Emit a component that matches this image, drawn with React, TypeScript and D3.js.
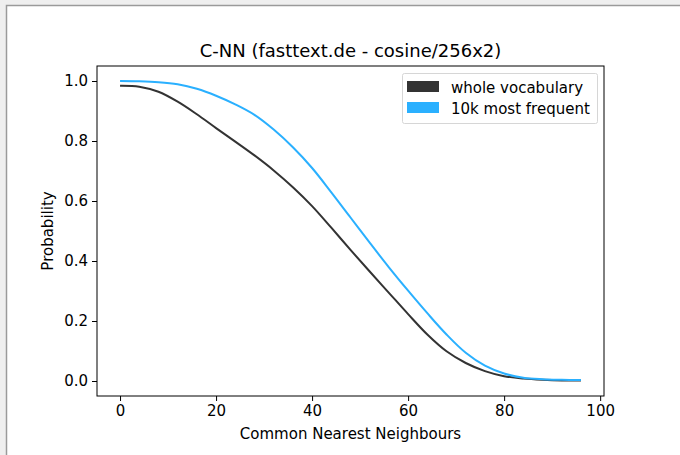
import React, { useEffect, useRef } from 'react';
import * as d3 from 'd3';

// values, every 4 neighbours
const neighbours = [0, 4, 8, 12, 16, 20, 24, 28, 32, 36, 40, 44, 48, 52, 56, 60, 64, 68, 72, 76, 80, 84, 88, 92, 96];
const wholeVocab = [0.984, 0.981, 0.964, 0.931, 0.889, 0.843, 0.798, 0.752, 0.702, 0.646, 0.583, 0.511, 0.437, 0.365, 0.294, 0.223, 0.155, 0.099, 0.06, 0.033, 0.016, 0.008, 0.004, 0.002, 0.002];
const frequent10k = [1.0, 0.999, 0.996, 0.989, 0.974, 0.951, 0.922, 0.887, 0.838, 0.779, 0.71, 0.629, 0.545, 0.461, 0.379, 0.301, 0.226, 0.155, 0.094, 0.051, 0.025, 0.011, 0.006, 0.004, 0.003];
const xTicks = [0, 20, 40, 60, 80, 100];
const yTicks = [0.0, 0.2, 0.4, 0.6, 0.8, 1.0];
const seriesNames = ['whole vocabulary', '10k most frequent'];
const seriesColors = ['#333333', '#2ab0ff'];

function App() {
	const svgRef = useRef<SVGSVGElement>(null);

	useEffect(() => {
		const svg = d3.select(svgRef.current);
		svg.selectAll('*').remove();

		const font = 'DejaVu Sans, sans-serif';
		const left = 97, right = 604, top = 66, bottom = 396;

		// window frame of the screenshot
		svg.append('rect').attr('width', 680).attr('height', 455).attr('fill', '#efefef');
		svg.append('rect')
			.attr('x', 6.5).attr('y', 5.5)
			.attr('width', 690).attr('height', 460)
			.attr('fill', '#fff').attr('stroke', '#9a9a9a').attr('stroke-width', 1.5);

		const x = d3.scaleLinear().domain([-4.8, 100.8]).range([left, right]);
		const y = d3.scaleLinear().domain([-0.05, 1.05]).range([bottom, top]);

		const xAxis = svg.append('g')
			.attr('transform', `translate(0,${bottom})`)
			.call(d3.axisBottom(x).tickValues(xTicks).tickSize(5).tickPadding(4).tickFormat(d3.format('d')));
		const yAxis = svg.append('g')
			.attr('transform', `translate(${left},0)`)
			.call(d3.axisLeft(y).tickValues(yTicks).tickSize(5).tickPadding(4).tickFormat(d3.format('.1f')));

		[xAxis, yAxis].forEach((g) => {
			g.select('.domain').remove();
			g.selectAll('line').attr('stroke', '#000').attr('stroke-width', 1);
			g.selectAll('text').attr('font-family', font).attr('font-size', 15).attr('fill', '#000');
		});

		const lines = [wholeVocab, frequent10k];
		lines.forEach((vals, i) => {
			const line = d3.line<number>()
				.x((d, j) => x(neighbours[j]))
				.y((d) => y(d))
				.curve(d3.curveCatmullRom);
			svg.append('path')
				.datum(vals)
				.attr('d', line)
				.attr('fill', 'none')
				.attr('stroke', seriesColors[i])
				.attr('stroke-width', 2);
		});

		svg.append('rect')
			.attr('x', left).attr('y', top)
			.attr('width', right - left).attr('height', bottom - top)
			.attr('fill', 'none').attr('stroke', '#000').attr('stroke-width', 1);

		// legend
		svg.append('rect')
			.attr('x', 402.5).attr('y', 73.5).attr('width', 195).attr('height', 50)
			.attr('rx', 2).attr('fill', '#fff').attr('fill-opacity', 0.8)
			.attr('stroke', '#d6d6d6').attr('stroke-width', 1);
		seriesNames.forEach((name, i) => {
			const ly = 81 + i * 21;
			svg.append('rect')
				.attr('x', 407).attr('y', ly).attr('width', 32).attr('height', 11)
				.attr('fill', seriesColors[i]);
			svg.append('text')
				.attr('x', 451).attr('y', ly + 11.5)
				.attr('font-family', font).attr('font-size', 15)
				.text(name);
		});

		svg.append('text')
			.attr('x', (left + right) / 2).attr('y', 57)
			.attr('text-anchor', 'middle')
			.attr('font-family', font).attr('font-size', 18)
			.text('C-NN (fasttext.de - cosine/256x2)');

		svg.append('text')
			.attr('x', (left + right) / 2).attr('y', 439)
			.attr('text-anchor', 'middle')
			.attr('font-family', font).attr('font-size', 15)
			.text('Common Nearest Neighbours');

		svg.append('text')
			.attr('transform', `translate(53,${(top + bottom) / 2}) rotate(-90)`)
			.attr('text-anchor', 'middle')
			.attr('font-family', font).attr('font-size', 15)
			.text('Probability');
	}, []);

	return (
		<svg ref={svgRef} width={680} height={455} style={{ position: 'absolute', left: 0, top: 0 }}></svg>
	);
}

export default App;
